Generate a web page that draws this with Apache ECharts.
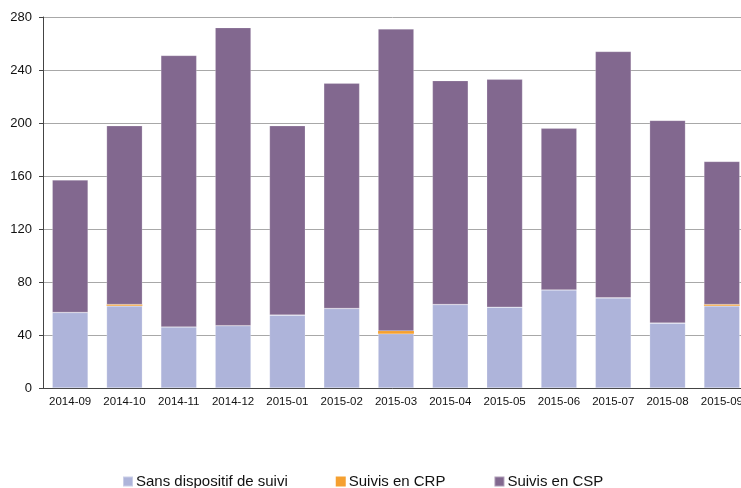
<!DOCTYPE html>
<html>
<head>
<meta charset="utf-8">
<script src="https://cdn.jsdelivr.net/npm/echarts@6/dist/echarts.min.js"></script>
<style>
    html, body { margin: 0; padding: 0; background: #fff; }
    #chart { width: 741px; height: 488px; }
</style>
</head>
<body>
<div id="chart"></div>
<script>
// mois
var months = ["2014-09", "2014-10", "2014-11", "2014-12", "2015-01", "2015-02", "2015-03",
    "2015-04", "2015-05", "2015-06", "2015-07", "2015-08", "2015-09"];
// séries empilées
var sansSuivi = [57, 62, 46, 47, 55, 60, 41, 63, 61, 74, 68, 49, 62];
var suivisCRP = [0, 1, 0, 0, 0, 0, 2, 0, 0, 0, 0, 0, 1];
var suivisCSP = [100, 135, 205, 225, 143, 170, 228, 169, 172, 122, 186, 153, 108];
var yTicks = [0, 40, 80, 120, 160, 200, 240, 280];

var chartDom = echarts.init(document.getElementById("chart"));

function barSeries(name, data, color, border) {
    return {
        name: name,
        type: "bar",
        stack: "total",
        data: data,
        barCategoryGap: "34%",
        itemStyle: {
            color: color,
            borderColor: "rgba(255,255,255,0.35)",
            borderWidth: border
        },
        emphasis: { disabled: true }
    };
}

var option = {
    animation: false,
    textStyle: { fontFamily: "Liberation Sans, Arial, sans-serif" },
    grid: {
        left: 43,
        top: 17,
        width: 706,
        height: 371,
        outerBoundsMode: "none",
        containLabel: false
    },
    legend: {
        left: 122,
        top: 474,
        padding: 0,
        itemWidth: 10,
        itemHeight: 10,
        itemGap: 48,
        icon: "rect",
        textStyle: { fontSize: 15, color: "#111", padding: [0, 0, 0, -2] },
        data: ["Sans dispositif de suivi", "Suivis en CRP", "Suivis en CSP"]
    },
    xAxis: {
        type: "category",
        data: months,
        axisLine: { lineStyle: { color: "#444", width: 1 } },
        axisTick: { length: 5, lineStyle: { color: "#444" } },
        axisLabel: { color: "#111", fontSize: 11.5, margin: 8, interval: 0, hideOverlap: false }
    },
    yAxis: {
        type: "value",
        min: yTicks[0],
        max: yTicks[yTicks.length - 1],
        interval: 40,
        axisLine: { show: true, lineStyle: { color: "#444", width: 1 } },
        axisTick: { show: true, length: 4, lineStyle: { color: "#444" } },
        axisLabel: { color: "#111", fontSize: 13, margin: 11 },
        splitLine: { lineStyle: { color: "#a8a8a8", width: 1 } }
    },
    series: [
        barSeries("Sans dispositif de suivi", sansSuivi, "#aeb4da", 0.6),
        barSeries("Suivis en CRP", suivisCRP, "#f5a030", 0),
        barSeries("Suivis en CSP", suivisCSP, "#82688f", 0.6)
    ]
};

chartDom.setOption(option);
</script>
</body>
</html>
